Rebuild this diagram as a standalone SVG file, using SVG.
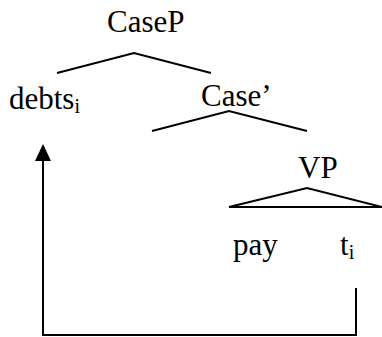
<svg xmlns="http://www.w3.org/2000/svg" width="382" height="337" viewBox="0 0 382 337">
<style>
.t{font-family:'Liberation Serif','Times New Roman','DejaVu Serif',serif;font-size:31px;fill:#000}
.sub{font-size:20px}
.ln{stroke:#000;stroke-width:2;fill:none}
.head{fill:#000;stroke:none}
</style>
<rect width="382" height="337" fill="#fff"/>
<g id="caseP"><text class="t" x="107" y="32">CaseP</text></g>
<g id="debts"><text class="t" x="9" y="109">debts<tspan class="sub" dy="4">i</tspan></text></g>
<g id="caseBar"><text class="t" x="201" y="106">Case’</text></g>
<g id="vp"><text class="t" x="298" y="178">VP</text></g>
<g id="pay"><text class="t" x="233" y="255">pay</text></g>
<g id="trace"><text class="t" x="340" y="255">t<tspan class="sub" dy="4">i</tspan></text></g>
<g id="connectors">
<polyline class="ln" points="57,73 134,53 211,73"/>
<polyline class="ln" points="152,131 229,111 307,131"/>
<polygon class="ln" points="229,207 307,188 382,207"/>
<polyline class="ln" points="356,288 356,335 43,335 43,158"/>
<polygon class="head" points="43,144 35,161 51,161"/>
</g>
</svg>
